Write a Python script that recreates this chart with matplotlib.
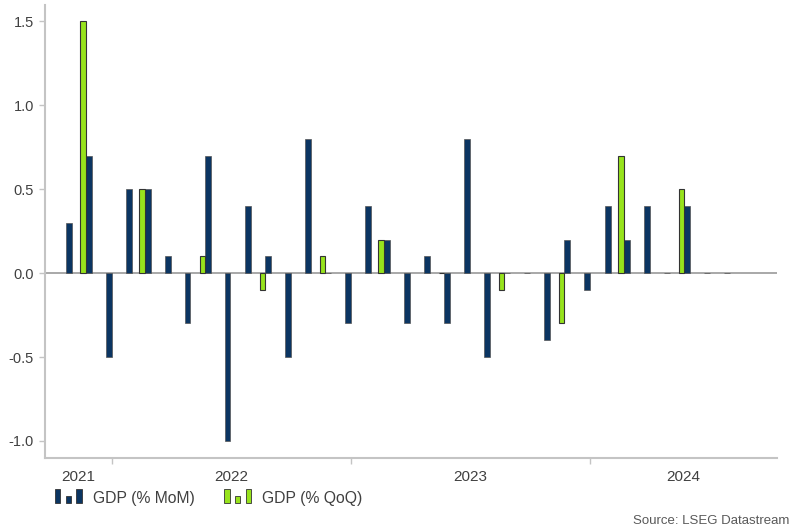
import matplotlib
matplotlib.use("Agg")
from matplotlib import pyplot as plt
from matplotlib.legend_handler import HandlerBase
from matplotlib.patches import Rectangle
import matplotlib.dates as mdates
import pandas as pd

plt.rcParams["font.family"] = ["Liberation Sans", "DejaVu Sans"]

# monthly GDP, % MoM (Oct 2021 - Jul 2024)
mom_months = pd.period_range("2021-10", "2024-07", freq="M")
mom_values = [0.3, 0.7, -0.5, 0.5, 0.5, 0.1, -0.3, 0.7, -1.0, 0.4, 0.1, -0.5,
              0.8, 0.0, -0.3, 0.4, 0.2, -0.3, 0.1, -0.3, 0.8, -0.5, 0.0, 0.0,
              -0.4, 0.2, -0.1, 0.4, 0.2, 0.4, 0.0, 0.4, 0.0, 0.0]

# quarterly GDP, % QoQ (Q4 2021 - Q2 2024)
qoq_quarters = pd.period_range("2021Q4", "2024Q2", freq="Q")
qoq_values = [1.5, 0.5, 0.1, -0.1, 0.1, 0.2, 0.0, -0.1, -0.3, 0.7, 0.5]

years = [2021, 2022, 2023, 2024]
yticks = [-1.0, -0.5, 0.0, 0.5, 1.0, 1.5]

NAVY = "#0b3562"
GREEN = "#97e31c"
TXT = "#404040"
AXC = "#c4c4c4"
BW = 9.0  # bar width in days


class ThreeBars(HandlerBase):
    def __init__(self, color):
        super().__init__()
        self.color = color

    def create_artists(self, legend, orig, xd, yd, width, height, fontsize, trans):
        w = width / 5.0
        arts = []
        for i, h in zip([0, 2, 4], [1.0, 0.55, 1.0]):
            r = Rectangle((xd + i * w, yd - 0.1 * height), w, height * 1.15 * h,
                          facecolor=self.color, edgecolor="#333333", lw=0.6,
                          transform=trans)
            arts.append(r)
        return arts


fig = plt.figure(figsize=(8, 5.31), dpi=100)
ax = fig.add_axes([45 / 800, 1 - 457.7 / 531, 732 / 800, 453 / 531])

# navy bars end at the first day of the following month
mom_x = [mdates.date2num((p + 1).start_time) for p in mom_months]
# green bars sit just left of the middle month of the quarter
qoq_x = [mdates.date2num((q.asfreq("M", "s") + 2).start_time) - BW for q in qoq_quarters]

ax.axhline(0, color="#a8a8a8", lw=1.4, zorder=1)
b1 = ax.bar(mom_x, mom_values, width=-BW, align="edge", color=NAVY,
            edgecolor="#555555", lw=0.5, zorder=2)
b2 = ax.bar(qoq_x, qoq_values, width=-BW * 0.9, align="edge", color=GREEN,
            edgecolor="#333333", lw=0.8, zorder=2)

x0 = mdates.date2num(pd.Timestamp("2021-09-21"))
x1 = mdates.date2num(pd.Timestamp("2024-10-12"))
ax.set_xlim(x0, x1)
ax.set_ylim(-1.1, 1.6)

ax.set_yticks(yticks)
ax.set_yticklabels([f"{v:.1f}" for v in yticks])
ax.tick_params(axis="y", length=4, width=1, color=AXC, labelcolor=TXT,
               labelsize=10.5, pad=4)

# year labels centred in the visible part of each year, ticks at boundaries
bounds = [mdates.date2num(pd.Timestamp(f"{y}-01-01")) for y in years[1:]]
edges = [x0] + bounds + [x1]
centres = [(edges[i] + edges[i + 1]) / 2 for i in range(len(years))]
ax.set_xticks(centres)
ax.set_xticklabels([str(y) for y in years])
ax.set_xticks(bounds, minor=True)
ax.tick_params(axis="x", which="major", length=0, labelcolor=TXT,
               labelsize=11, pad=9)
ax.tick_params(axis="x", which="minor", length=4, width=1, color=AXC)

for s in ["top", "right"]:
    ax.spines[s].set_visible(False)
for s in ["left", "bottom"]:
    ax.spines[s].set_color(AXC)
    ax.spines[s].set_linewidth(1.5)

fig.legend([b1, b2], ["GDP (% MoM)", "GDP (% QoQ)"],
           handler_map={b1: ThreeBars(NAVY), b2: ThreeBars(GREEN)},
           loc="center left", bbox_to_anchor=(55 / 800, 1 - 498 / 531),
           ncol=2, frameon=False, fontsize=11.3, labelcolor=TXT,
           handlelength=1.7, handleheight=0.8, handletextpad=0.7,
           columnspacing=1.9, borderpad=0, borderaxespad=0)

fig.text(789 / 800, 1 - 521 / 531, "Source: LSEG Datastream", ha="right",
         va="center", fontsize=9.5, color="#595959")

fig.savefig("out.png", dpi=100)
